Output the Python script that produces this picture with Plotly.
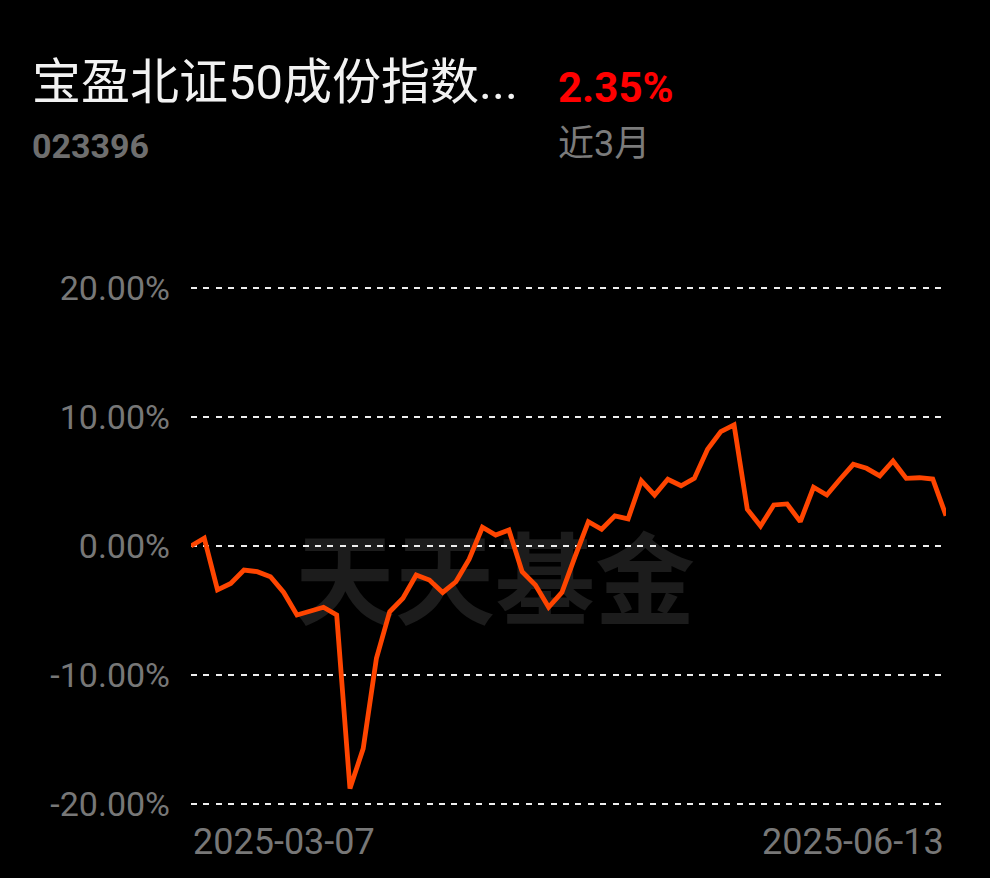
import plotly.graph_objects as go

# ---- data ----
fund_name = "宝盈北证50成份指数..."
fund_code = "023396"
period_return = "2.35%"
period_label = "近3月"
start_date = "2025-03-07"
end_date = "2025-06-13"
returns_pct = [0.0, 0.6, -3.4, -2.9, -1.86, -1.99, -2.38, -3.6, -5.35, -5.09,
               -4.75, -5.35, -18.8, -15.7, -8.7, -5.09, -4.05, -2.25, -2.64, -3.6,
               -2.77, -1.03, 1.45, 0.85, 1.24, -1.99, -3.02, -4.75, -3.6, -0.8,
               1.89, 1.3, 2.33, 2.1, 5.06, 3.95, 5.17, 4.67, 5.24, 7.49,
               8.86, 9.38, 2.84, 1.55, 3.18, 3.26, 1.89, 4.55, 3.95, 5.17,
               6.33, 6.02, 5.43, 6.59, 5.24, 5.29, 5.19, 2.35]
y_ticks = [20, 10, 0, -10, -20]
y_tick_labels = ["20.00%", "10.00%", "0.00%", "-10.00%", "-20.00%"]
watermark = "天天基金"

# ---- layout geometry (pixels) ----
W, H = 990, 878
Y_LO, Y_HI = -21, 21
PX_PER_UNIT = (804 - 288) / 40.0
L, R = 191, 946
T = 288 - (Y_HI - 20) * PX_PER_UNIT
B = 804 + (-20 - Y_LO) * PX_PER_UNIT
pw, ph = R - L, B - T

def px(xp):
    return (xp - L) / pw

def py(yp):
    return (B - yp) / ph

idx = list(range(len(returns_pct)))

fig = go.Figure()
fig.add_trace(go.Scatter(
    x=idx, y=returns_pct, mode="lines",
    line=dict(color="#ff4500", width=4.8),
    hoverinfo="skip", showlegend=False,
))

cjk = "Roboto, 'Noto Sans CJK SC', sans-serif"
annos = [
    dict(text=fund_name, x=px(30), y=py(83), xanchor="left", yanchor="middle",
         font=dict(family=cjk, size=49, color="#f2f2f2")),
    dict(text="<b>" + fund_code + "</b>", x=px(30), y=py(146), xanchor="left", yanchor="middle",
         font=dict(family=cjk, size=34, color="#6e6e6e")),
    dict(text="<b>" + period_return + "</b>", x=px(556), y=py(88), xanchor="left", yanchor="middle",
         font=dict(family=cjk, size=42, color="#ff0000")),
    dict(text=period_label, x=px(556), y=py(144), xanchor="left", yanchor="middle",
         font=dict(family=cjk, size=36, color="#7b7b7b")),
    dict(text=start_date, x=0, xref="x", y=py(842), xanchor="left", yanchor="middle",
         font=dict(family="Roboto", size=36, color="#777777")),
    dict(text=end_date, x=len(returns_pct) - 1, xref="x", y=py(842), xanchor="right", yanchor="middle",
         font=dict(family="Roboto", size=36, color="#777777")),
]
for a in annos:
    a.setdefault("xref", "paper")
    a["yref"] = "paper"
    a["showarrow"] = False

fig.update_layout(
    width=W, height=H,
    margin=dict(l=L, r=W - R, t=T, b=H - B, autoexpand=False),
    paper_bgcolor="#000000", plot_bgcolor="#000000",
    annotations=annos,
    shapes=[dict(
        type="rect", xref="paper", yref="paper",
        x0=px(285), x1=px(705), y0=py(637), y1=py(541),
        line=dict(width=0), fillcolor="rgba(0,0,0,0)", layer="below",
        label=dict(text=watermark, textposition="middle center",
                   font=dict(family="'Noto Sans CJK SC'", size=100, color="#1c1c1c",
                             weight="bold")),
    )],
    xaxis=dict(range=[0, len(returns_pct) - 1], showgrid=False, zeroline=False,
               showticklabels=False, showline=False, fixedrange=True),
    yaxis=dict(range=[Y_LO, Y_HI], tickvals=y_ticks, ticktext=y_tick_labels,
               showgrid=True, gridcolor="#eeeeee", gridwidth=2.2, griddash="6px,6.4px",
               zeroline=False, showline=False, ticks="", fixedrange=True,
               ticklabelstandoff=20,
               tickfont=dict(family="Roboto", size=34, color="#777777")),
)

fig.write_html("out.html", config={"displayModeBar": False, "staticPlot": True},
               post_script="document.body.style.margin='0';document.body.style.overflow='hidden';")
